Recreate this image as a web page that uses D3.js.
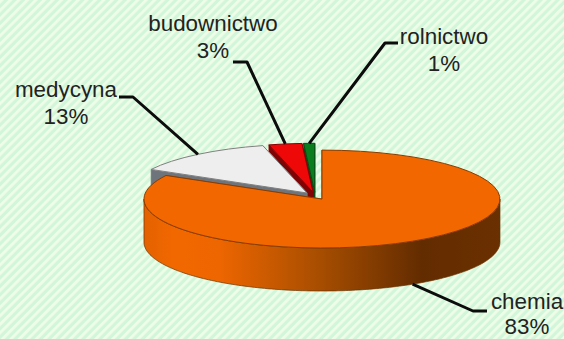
<!DOCTYPE html>
<html>
<head>
<meta charset="utf-8">
<script src="https://cdn.jsdelivr.net/npm/d3@7"></script>
<style>
html,body{margin:0;padding:0;background:#e0f9e2;}
svg{display:block;}
text{font-family:"Liberation Sans",Arial,sans-serif;fill:#222222;}
</style>
</head>
<body>
<svg id="chart" width="564" height="339"></svg>
<script>
// Zastosowania: udział procentowy
const categories = ["chemia", "medycyna", "budownictwo", "rolnictwo"];
const shares = [83, 13, 3, 1];
const topColors = ["#f26700", "#eeeeee", "#ee0808", "#0a7d1e"];
const wallColors = ["#a84c00", "#6e747c", "#7d0505", "#064a12"];
const edgeColors = ["#8a3c00", "#808080", "#8a0000", "#064a12"];

// Pie geometry on the page
const cx = 315.2, cy = 195.9, radius = 178, squash = 0.275, depth = 43, explode = 13.3;
const fontSize = 22.4;

// Leader lines: elbow point, end point, label anchor and line spacing for each category
const leaders = [
  {elbow: [473, 311], end: [487, 311], label: [527, 309], gap: 25},
  {elbow: [133, 97],  end: [119, 97],  label: [66, 97],   gap: 27},
  {elbow: [247, 62],  end: [233, 62],  label: [213, 31],  gap: 27},
  {elbow: [385, 43],  end: [398, 43],  label: [444, 44],  gap: 27}
];

const svg = d3.select("#chart");
const defs = svg.append("defs");

// Pale diagonal stripes behind the chart
const stripes = defs.append("pattern")
  .attr("id", "stripes").attr("patternUnits", "userSpaceOnUse")
  .attr("width", 6).attr("height", 6)
  .attr("patternTransform", "rotate(-45)");
stripes.append("rect").attr("width", 6).attr("height", 6).attr("fill", "#d2f6da");
stripes.append("rect").attr("width", 6).attr("height", 2.8).attr("fill", "#effde8");
svg.append("rect").attr("width", 564).attr("height", 339).attr("fill", "url(#stripes)");

// Shading along the rim of the large slice
const rim = defs.append("linearGradient")
  .attr("id", "rim").attr("gradientUnits", "userSpaceOnUse")
  .attr("x1", cx - radius).attr("x2", cx + radius + 13).attr("y1", 0).attr("y2", 0);
[[0, "#e06000"], [0.1, "#f26800"], [0.22, "#ee6600"], [0.49, "#a84e00"], [0.77, "#632c00"], [1, "#6b3000"]]
  .forEach(([o, c]) => rim.append("stop").attr("offset", o).attr("stop-color", c));

const pie = d3.pie().sort(null).value(d => d);
const slices = pie(shares);
const line = d3.line();
const arc = d3.arc().innerRadius(0).outerRadius(radius);

// Page position of a point on a slice, lifted off the pie by the explode distance
function origin(s) {
  const mid = (s.startAngle + s.endAngle) / 2;
  return [cx + explode * Math.sin(mid), cy - explode * Math.cos(mid) * squash];
}
function onRim(s, a, drop = 0) {
  const [ox, oy] = origin(s);
  return [ox + radius * Math.sin(a), oy - radius * Math.cos(a) * squash + drop];
}

// Back slices first so that the large slice overlaps their walls
const order = [3, 2, 1, 0];
order.forEach(i => {
  const s = slices[i];
  const [ox, oy] = origin(s);
  const g = svg.append("g");

  // Cut faces
  [s.startAngle, s.endAngle].forEach(a => {
    const p = onRim(s, a), q = onRim(s, a, depth);
    g.append("path")
      .attr("d", line([[ox, oy], p, q, [ox, oy + depth]]) + "Z")
      .attr("fill", wallColors[i]).attr("stroke", edgeColors[i]).attr("stroke-width", 0.6);
  });

  // Outer wall, front half only
  const from = Math.max(s.startAngle, Math.PI / 2), to = Math.min(s.endAngle, 3 * Math.PI / 2);
  if (to > from) {
    const angles = d3.range(from, to, 0.02).concat([to]);
    const pts = angles.map(a => onRim(s, a)).concat(angles.slice().reverse().map(a => onRim(s, a, depth)));
    g.append("path").attr("d", line(pts) + "Z")
      .attr("fill", "url(#rim)").attr("stroke", "#6b3200").attr("stroke-width", 0.7);
  }

  // Top face
  g.append("path")
    .attr("transform", `translate(${ox},${oy}) scale(1,${squash})`)
    .attr("d", arc(s))
    .attr("fill", topColors[i])
    .attr("stroke", edgeColors[i]).attr("stroke-width", 1)
    .attr("vector-effect", "non-scaling-stroke");
});

// Leader lines and labels
slices.forEach((s, i) => {
  const mid = (s.startAngle + s.endAngle) / 2;
  const front = Math.cos(mid) < 0;
  const start = onRim(s, mid, front ? depth : 0);
  const l = leaders[i];
  svg.append("path")
    .attr("d", line([start, l.elbow, l.end]))
    .attr("fill", "none").attr("stroke", "#0c0c0c").attr("stroke-width", 3)
    .attr("stroke-linejoin", "round");
  const t = svg.append("text")
    .attr("text-anchor", "middle")
    .attr("font-size", fontSize);
  t.append("tspan").attr("x", l.label[0]).attr("y", l.label[1]).text(categories[i]);
  t.append("tspan").attr("x", l.label[0]).attr("y", l.label[1] + l.gap).text(shares[i] + "%");
});
</script>
</body>
</html>
